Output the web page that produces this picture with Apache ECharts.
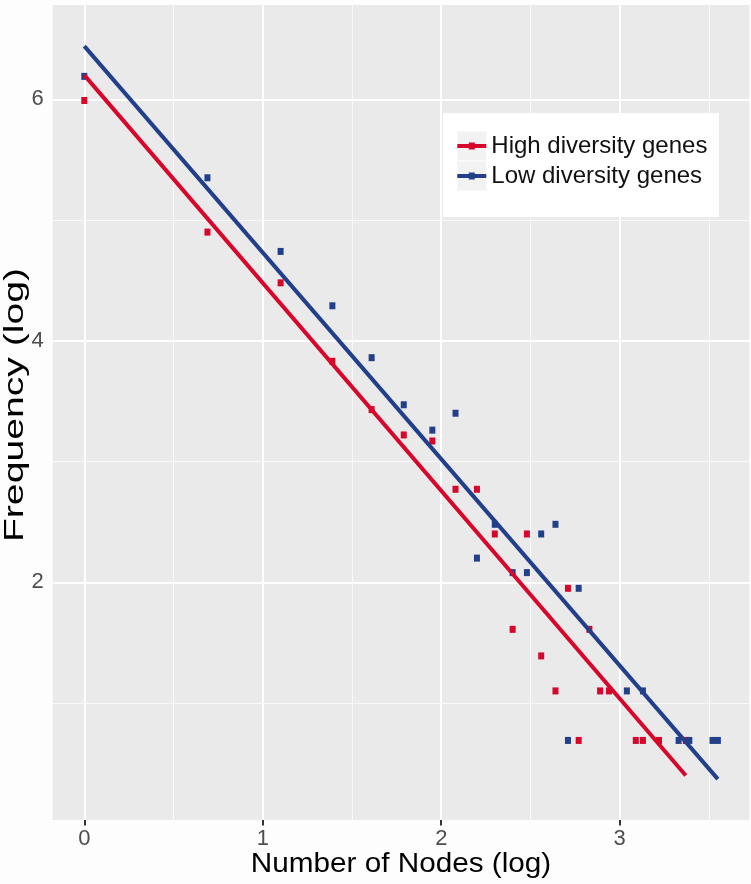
<!DOCTYPE html>
<html>
<head>
<meta charset="utf-8">
<title>Frequency vs Number of Nodes</title>
<script src="https://cdn.jsdelivr.net/npm/echarts@6/dist/echarts.min.js"></script>
<style>
html, body { margin: 0; padding: 0; background: #fdfdfd; }
#main { width: 751px; height: 884px; }
</style>
</head>
<body>
<div id="main"></div>
<script>
// values (both axes are log)
var seriesNames = ['High diversity genes', 'Low diversity genes'];

var highX = [0, 0.69, 1.10, 1.39, 1.61, 1.79, 1.95, 2.08, 2.20, 2.30, 2.40, 2.48, 2.56, 2.64, 2.71, 2.77, 2.83, 2.89, 2.94, 3.09, 3.13, 3.22, 3.37];
var highY = [5.99, 4.90, 4.48, 3.83, 3.43, 3.22, 3.17, 2.77, 2.77, 2.40, 1.61, 2.40, 1.39, 1.10, 1.95, 0.69, 1.61, 1.10, 1.10, 0.69, 0.69, 0.69, 0.69];

var lowX = [0, 0.69, 1.10, 1.39, 1.61, 1.79, 1.95, 2.08, 2.20, 2.30, 2.40, 2.48, 2.56, 2.64, 2.71, 2.77, 3.04, 3.13, 3.33, 3.39, 3.52, 3.55];
var lowY = [6.19, 5.35, 4.74, 4.29, 3.86, 3.47, 3.26, 3.40, 2.20, 2.48, 2.08, 2.08, 2.40, 2.48, 0.69, 1.95, 1.10, 1.10, 0.69, 0.69, 0.69, 0.69];

// fitted lines (start / end)
var highFit = [[0, 6.20], [3.37, 0.40]];
var lowFit = [[0, 6.44], [3.55, 0.37]];

// axes
var xTicks = [0, 1, 2, 3];
var xMinor = [0.5, 1.5, 2.5, 3.5];
var yTicks = [2, 4, 6];
var yMinor = [1, 3, 5];
var xRange = [-0.177, 3.726];
var yRange = [0.031, 6.781];

var RED = '#D7062B';
var BLUE = '#22408A';

function zip(xs, ys) {
    var out = [];
    for (var i = 0; i < xs.length; i++) {
        out.push([xs[i], ys[i]]);
    }
    return out;
}

// grid lines (ggplot style) as mark lines
function gridLines() {
    var list = [];
    xMinor.forEach(function (v) { list.push({ xAxis: v, lineStyle: { color: '#f9f9f9', width: 1 } }); });
    yMinor.forEach(function (v) { list.push({ yAxis: v, lineStyle: { color: '#f9f9f9', width: 1 } }); });
    xTicks.forEach(function (v) { list.push({ xAxis: v, lineStyle: { color: '#ffffff', width: 2 } }); });
    yTicks.forEach(function (v) { list.push({ yAxis: v, lineStyle: { color: '#ffffff', width: 2 } }); });
    return list;
}

var legendIcon = 'path://M0,-10.5 M29,18.5 M0,2 L29,2 L29,6 L0,6 Z M11.5,0.5 L17.5,0.5 L17.5,7.5 L11.5,7.5 Z';

var chart = echarts.init(document.getElementById('main'));

var option = {
    animation: false,
    backgroundColor: '#fdfdfd',
    textStyle: { fontFamily: 'Liberation Sans, Arial, sans-serif' },
    grid: {
        left: 52.7, right: 1.7, top: 5, bottom: 64,
        show: true,
        backgroundColor: '#EBEAEB',
        borderWidth: 0,
        containLabel: false,
        outerBoundsMode: 'none'
    },
    xAxis: {
        type: 'value',
        min: xRange[0],
        max: xRange[1],
        splitLine: { show: false },
        axisLine: { show: false },
        axisTick: {
            show: true,
            customValues: xTicks,
            length: 5.5,
            lineStyle: { color: '#333333', width: 2 }
        },
        axisLabel: {
            customValues: xTicks,
            fontSize: 22,
            color: '#4D4D4D',
            margin: 8
        }
    },
    yAxis: {
        type: 'value',
        min: yRange[0],
        max: yRange[1],
        splitLine: { show: false },
        axisLine: { show: false },
        axisTick: {
            show: true,
            customValues: yTicks,
            length: 6,
            lineStyle: { color: '#333333', width: 2 }
        },
        axisLabel: {
            customValues: yTicks,
            fontSize: 22,
            color: '#4D4D4D',
            margin: 9
        }
    },
    legend: {
        orient: 'vertical',
        left: 457.3,
        top: 131.5,
        padding: 0,
        itemWidth: 29,
        itemHeight: 29,
        itemGap: 1,
        selectedMode: false,
        symbolKeepAspect: true,
        textStyle: { fontSize: 24, color: '#111111' },
        data: [
            { name: seriesNames[0], icon: legendIcon },
            { name: seriesNames[1], icon: legendIcon }
        ],
        z: 6
    },
    graphic: [
        // legend box
        { type: 'rect', z: 4, z2: 0, silent: true,
          shape: { x: 443, y: 113, width: 276, height: 104 },
          style: { fill: '#ffffff' } },
        { type: 'rect', z: 4, z2: 1, silent: true,
          shape: { x: 457.3, y: 131.5, width: 29, height: 29 },
          style: { fill: '#F2F2F2' } },
        { type: 'rect', z: 4, z2: 1, silent: true,
          shape: { x: 457.3, y: 161.5, width: 29, height: 29 },
          style: { fill: '#F2F2F2' } },
        // axis titles
        { type: 'text', x: 401, y: 865, scaleX: 1.1, silent: true,
          style: { text: 'Number of Nodes (log)', fontSize: 27, fontFamily: 'Liberation Sans, Arial, sans-serif',
                   fill: '#000000', align: 'center', verticalAlign: 'middle',
                   textAlign: 'center', textVerticalAlign: 'middle' } },
        { type: 'text', x: 16, y: 405, rotation: Math.PI / 2, scaleX: 1.45, silent: true,
          style: { text: 'Frequency (log)', fontSize: 27, fontFamily: 'Liberation Sans, Arial, sans-serif',
                   fill: '#000000', align: 'center', verticalAlign: 'middle',
                   textAlign: 'center', textVerticalAlign: 'middle' } }
    ],
    series: [
        {
            type: 'line',
            data: [],
            silent: true,
            markLine: {
                silent: true,
                z: 1,
                animation: false,
                symbol: ['none', 'none'],
                label: { show: false },
                lineStyle: { type: 'solid' },
                emphasis: { disabled: true },
                data: gridLines()
            }
        },
        {
            name: seriesNames[0],
            type: 'scatter',
            data: zip(highX, highY),
            symbol: 'rect',
            symbolSize: [6, 7],
            itemStyle: { color: RED, opacity: 1 },
            z: 2
        },
        {
            name: seriesNames[1],
            type: 'scatter',
            data: zip(lowX, lowY),
            symbol: 'rect',
            symbolSize: [6, 7],
            itemStyle: { color: BLUE, opacity: 1 },
            z: 2
        },
        {
            name: seriesNames[0],
            type: 'line',
            data: highFit,
            showSymbol: false,
            symbol: 'none',
            itemStyle: { color: RED },
            lineStyle: { color: RED, width: 4 },
            z: 3
        },
        {
            name: seriesNames[1],
            type: 'line',
            data: lowFit,
            showSymbol: false,
            symbol: 'none',
            itemStyle: { color: BLUE },
            lineStyle: { color: BLUE, width: 4 },
            z: 3
        }
    ]
};

chart.setOption(option);
</script>
</body>
</html>
